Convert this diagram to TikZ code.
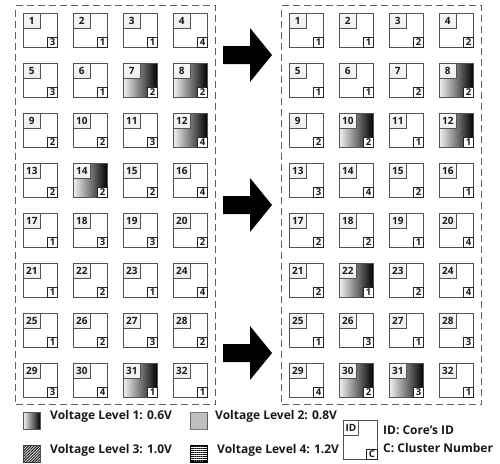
\documentclass[tikz,border=0pt]{standalone}
\usepackage{fontspec}
\setmainfont{Open Sans}
\usetikzlibrary{patterns,patterns.meta}
\begin{document}
\begin{tikzpicture}[x=1pt,y=-1pt,
  dashbox/.style={draw=gray!75!black, line width=1.1pt, dash pattern=on 7pt off 4pt, inner sep=0pt, anchor=north west},
  cellbox/.style={draw=gray!65!black, line width=0.9pt, minimum width=34pt, minimum height=34pt, inner sep=0pt, anchor=north west},
  cellfill/.code={\ifnum#1=1 \pgfkeysalso{shade, left color=gray!12, right color=black}\else\pgfkeysalso{fill=white}\fi},
  idbox/.style={draw=gray!65!black, line width=0.8pt, top color=gray!5, bottom color=gray!14, minimum width=16.7pt, minimum height=15pt, inner sep=0pt, anchor=north west, text=black!90, font=\bfseries\fontsize{10}{10}\selectfont},
  cbox/.style={draw=black!85, line width=0.8pt, fill=white, minimum width=10pt, minimum height=10pt, inner sep=0pt, anchor=south east, text=black!90, font=\bfseries\fontsize{9.5}{9.5}\selectfont},
  legicon/.style={draw=gray!70!black, line width=0.6pt, minimum width=17pt, minimum height=17pt, inner sep=0pt, anchor=north west},
  legtext/.style={anchor=base west, inner sep=0pt, text=black!90, font=\bfseries\fontsize{12}{12}\selectfont},
  bigarrow/.style={fill=black}
]
\useasboundingbox (0,0) rectangle (500,463);

% dashed frames
\node[dashbox, minimum width=200pt, minimum height=399pt] (leftframe) at (15,5) {};
\node[dashbox, minimum width=200pt, minimum height=399pt] (rightframe) at (281,5) {};

% left grid
\foreach \id/\c/\s in {1/3/0,2/1/0,3/1/0,4/4/0,5/3/0,6/1/0,7/2/1,8/2/1,9/2/0,10/2/0,11/3/0,12/4/1,13/2/0,14/2/1,15/2/0,16/4/0,17/1/0,18/3/0,19/3/0,20/2/0,21/1/0,22/2/0,23/1/0,24/4/0,25/1/0,26/2/0,27/3/0,28/2/0,29/3/0,30/4/0,31/1/1,32/1/0} {
  \pgfmathtruncatemacro\col{mod(\id-1,4)}
  \pgfmathtruncatemacro\row{div(\id-1,4)}
  \node[cellbox, cellfill=\s] (L\id) at ({23+50*\col},{13+50*\row}) {};
  \node[idbox] (Lid\id) at (L\id.north west) {\id};
  \node[cbox] (Lc\id) at (L\id.south east) {\c};
}

% right grid
\foreach \id/\c/\s in {1/1/0,2/1/0,3/2/0,4/2/0,5/1/0,6/1/0,7/2/0,8/2/1,9/2/0,10/2/1,11/1/0,12/1/1,13/3/0,14/4/0,15/2/0,16/1/0,17/2/0,18/2/0,19/1/0,20/4/0,21/2/0,22/1/1,23/2/0,24/4/0,25/1/0,26/3/0,27/1/0,28/3/0,29/4/0,30/2/1,31/3/1,32/1/0} {
  \pgfmathtruncatemacro\col{mod(\id-1,4)}
  \pgfmathtruncatemacro\row{div(\id-1,4)}
  \node[cellbox, cellfill=\s] (R\id) at ({289+50*\col},{13+50*\row}) {};
  \node[idbox] (Rid\id) at (R\id.north west) {\id};
  \node[cbox] (Rc\id) at (R\id.south east) {\c};
}

% big arrows
\foreach \yc in {55,205,353} {
  \fill[bigarrow] (223,{\yc-9}) -- (250,{\yc-9}) -- (250,{\yc-27}) -- (272,\yc)
    -- (250,{\yc+27}) -- (250,{\yc+9}) -- (223,{\yc+9}) -- cycle;
}

% legend
\node[legicon, shade, left color=gray!10, right color=black] (v1) at (23,412) {};
\node[legtext] (t1) at (50,419.5) {Voltage Level 1: 0.6V};
\node[legicon, fill=gray!60, postaction={pattern={Dots[distance=2pt,radius=0.55pt]}, pattern color=gray!15}] (v2) at (190,412) {};
\node[legtext] (t2) at (215,419.5) {Voltage Level 2: 0.8V};
\node[legicon, fill=gray!20, postaction={pattern={Lines[angle=45,distance=2pt,line width=1pt]}, pattern color=gray!25!black}] (v3) at (23,445) {};
\node[legtext] (t3) at (50,453) {Voltage Level 3: 1.0V};
\node[legicon, draw=black, fill=white, postaction={pattern={Lines[angle=0,distance=2.1pt,line width=1.2pt]}, pattern color=black}] (v4) at (190,445) {};
\node[legtext] (t4) at (217,453) {Voltage Level 4: 1.2V};

% key
\node[cellbox, fill=white, minimum height=39pt] (key) at (343,420) {};
\node[idbox, top color=white, bottom color=white, minimum width=15pt] (keyid) at (key.north west) {ID};
\node[cbox, minimum width=11pt] (keyc) at (key.south east) {C};
\node[legtext] (t5) at (383,434) {ID: Core’s ID};
\node[legtext] (t6) at (383,452.5) {C: Cluster Number};
\end{tikzpicture}
\end{document}
